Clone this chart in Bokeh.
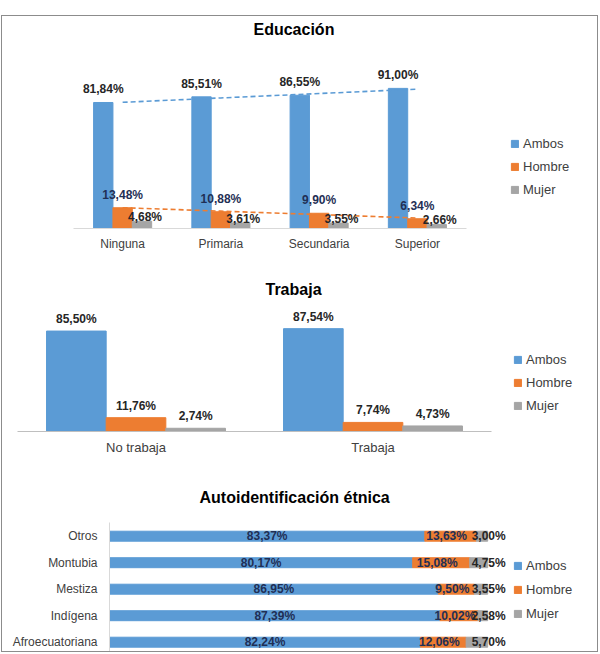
import numpy as np
from bokeh.plotting import figure
from bokeh.layouts import column
from bokeh.models import (ColumnDataSource, Range1d, Legend, LegendItem, FixedTicker)
from bokeh.embed import file_html
from bokeh.resources import INLINE
from bokeh.core.properties import value

FONT = "Liberation Sans"
BLUE = "#5B9BD5"
ORANGE = "#ED7D31"
GRAY = "#A5A5A5"
NAVY = "#1F2F55"
DARK = "#262626"
TXT = "#404040"

series = ["Ambos", "Hombre", "Mujer"]

edu_cats = ["Ninguna", "Primaria", "Secundaria", "Superior"]
edu_ambos = [81.84, 85.51, 86.55, 91.00]
edu_hombre = [13.48, 10.88, 9.90, 6.34]
edu_mujer = [4.68, 3.61, 3.55, 2.66]

trab_cats = ["No trabaja", "Trabaja"]
trab_ambos = [85.50, 87.54]
trab_hombre = [11.76, 7.74]
trab_mujer = [2.74, 4.73]

etn_cats = ["Afroecuatoriana", "Indígena", "Mestiza", "Montubia", "Otros"]
etn_ambos = [82.24, 87.39, 86.95, 80.17, 83.37]
etn_hombre = [12.06, 10.02, 9.50, 15.08, 13.63]
etn_mujer = [5.70, 2.58, 3.55, 4.75, 3.00]


def fmt(vals):
    return [f"{v:.2f}".replace(".", ",") + "%" for v in vals]


def make_fig(title, x_range, y_range, height, mbl, mbr, mbb, offset, standoff, **kw):
    p = figure(width=595, height=height, x_range=x_range, y_range=y_range,
               output_backend="svg", toolbar_location=None, title=title,
               min_border_left=mbl, min_border_right=mbr,
               min_border_top=0, min_border_bottom=mbb, **kw)
    p.frame_align = False
    p.outline_line_color = None
    p.xgrid.visible = False
    p.ygrid.visible = False
    p.background_fill_color = "white"
    p.border_fill_color = "white"
    p.title.align = "left"
    p.title.offset = offset
    p.title.standoff = standoff
    p.title.text_font = FONT
    p.title.text_font_size = "16px"
    p.title.text_font_style = "bold"
    p.title.text_color = "black"
    return p


def style_legend(p, renderers, loc, spacing):
    leg = Legend(items=[LegendItem(label=s, renderers=[r]) for s, r in zip(series, renderers)],
                 location=loc)
    leg.margin = 0
    leg.padding = 0
    leg.border_line_color = None
    leg.background_fill_alpha = 0
    leg.glyph_width = 9
    leg.glyph_height = 9
    leg.label_standoff = 4
    leg.label_height = 20
    leg.spacing = spacing
    leg.label_text_font = FONT
    leg.label_text_font_size = "13px"
    leg.label_text_color = TXT
    p.add_layout(leg)


def style_cat_axis(ax, color, size, standoff, ticks, labels, bounds=None):
    ax.ticker = FixedTicker(ticks=ticks)
    ax.major_label_overrides = {t: c for t, c in zip(ticks, labels)}
    if bounds is not None:
        ax.bounds = bounds
    ax.axis_line_color = color
    ax.major_tick_line_color = None
    ax.minor_tick_line_color = None
    ax.major_tick_out = 0
    ax.major_tick_in = 0
    ax.major_label_text_font = FONT
    ax.major_label_text_font_size = size
    ax.major_label_text_color = TXT
    ax.major_label_standoff = standoff


common = dict(text_font=value(FONT), text_font_size="12px", text_font_style="bold",
              text_baseline="middle")

# ---------------- Panel 1: Educación ----------------
i1 = np.arange(len(edu_cats))
p1 = make_fig("Educación", Range1d(-0.5, 4.823), Range1d(0, 122.1), 256,
              71, 1, 44, 180, 5, y_axis_location=None)
w1 = 0.197
src1 = ColumnDataSource(dict(xa=list(i1 - w1), xh=list(i1 * 1.0), xm=list(i1 + w1),
                             a=edu_ambos, h=edu_hombre, m=edu_mujer,
                             la=fmt(edu_ambos), lh=fmt(edu_hombre), lm=fmt(edu_mujer)))
ra = p1.vbar(x="xa", top="a", width=w1, color=BLUE, source=src1)
rh = p1.vbar(x="xh", top="h", width=w1, color=ORANGE, source=src1)
rm = p1.vbar(x="xm", top="m", width=w1, color=GRAY, source=src1)

fit_a = np.polyval(np.polyfit(i1, edu_ambos, 1), i1)
fit_h = np.polyval(np.polyfit(i1, edu_hombre, 1), i1)
p1.line(x=list(i1), y=list(fit_a), line_color=BLUE, line_dash="5 3", line_width=1.6)
p1.line(x=list(i1), y=list(fit_h), line_color=ORANGE, line_dash="5 3", line_width=1.6)

p1.text(x="xa", y="a", text="la", y_offset=-13, text_color=DARK, text_align="center",
        source=src1, **common)
p1.text(x="xh", y="h", text="lh", y_offset=-13, text_color=NAVY, text_align="center",
        source=src1, **common)
p1.text(x="xm", y="m", text="lm", y_offset=-4, x_offset=3, text_color=DARK,
        text_align="center", source=src1, **common)
style_cat_axis(p1.xaxis[0], "#d9d9d9", "12px", 8, list(i1), edu_cats, (-0.5, 3.5))
style_legend(p1, [ra, rh, rm], (437, 29), 3)

# ---------------- Panel 2: Trabaja ----------------
i2 = np.arange(len(trab_cats))
p2 = make_fig("Trabaja", Range1d(-0.5, 1.943), Range1d(0, 108.1), 198,
              15, 1, 39, 248, 13, y_axis_location=None)
w2 = 0.2517
src2 = ColumnDataSource(dict(xa=list(i2 - w2), xh=list(i2 * 1.0), xm=list(i2 + w2),
                             a=trab_ambos, h=trab_hombre, m=trab_mujer,
                             la=fmt(trab_ambos), lh=fmt(trab_hombre), lm=fmt(trab_mujer)))
ra2 = p2.vbar(x="xa", top="a", width=w2, color=BLUE, source=src2)
rh2 = p2.vbar(x="xh", top="h", width=w2, color=ORANGE, source=src2)
rm2 = p2.vbar(x="xm", top="m", width=w2, color=GRAY, source=src2)
for fld in ["a", "h", "m"]:
    p2.text(x="x" + fld, y=fld, text="l" + fld, y_offset=-12, text_align="center",
            text_color=DARK, source=src2, **common)
style_cat_axis(p2.xaxis[0], "#bfbfbf", "13px", 8, list(i2), trab_cats, (-0.5, 1.5))
style_legend(p2, [ra2, rh2, rm2], (496, 16), 3)

# ---------------- Panel 3: Autoidentificación étnica ----------------
idx = list(range(len(etn_cats)))
p3 = make_fig("Autoidentificación étnica", Range1d(0, 128.77), Range1d(-0.351, 4.517), 181,
              107, 1, 0, 90, 33, x_axis_location=None)
a3 = np.array(etn_ambos)
h3 = np.array(etn_hombre)
m3 = np.array(etn_mujer)
src3 = ColumnDataSource(dict(y=idx, Ambos=etn_ambos, Hombre=etn_hombre, Mujer=etn_mujer,
                             ca=list(a3 / 2), ch=list(a3 + h3 / 2), ce=list(a3 + h3 + m3),
                             la=fmt(etn_ambos), lh=fmt(etn_hombre), lm=fmt(etn_mujer)))
rs = p3.hbar_stack(series, y="y", height=0.377, color=[BLUE, ORANGE, GRAY], source=src3)
p3.text(x="ca", y="y", text="la", text_color=NAVY, text_align="center", source=src3, **common)
p3.text(x="ch", y="y", text="lh", text_color=NAVY, text_align="center", x_offset=-4,
        source=src3, **common)
p3.text(x="ce", y="y", text="lm", text_color=DARK, text_align="right", x_offset=18,
        source=src3, **common)
style_cat_axis(p3.yaxis[0], "#d9d9d9", "12px", 12, idx, etn_cats)
style_legend(p3, rs, (404, 28), 4)

layout = column(p1, p2, p3, margin=(15, 0, 0, 1),
                styles={"border": "1px solid #8c8c8c"})

open("out.html", "w").write(file_html(layout, INLINE))
